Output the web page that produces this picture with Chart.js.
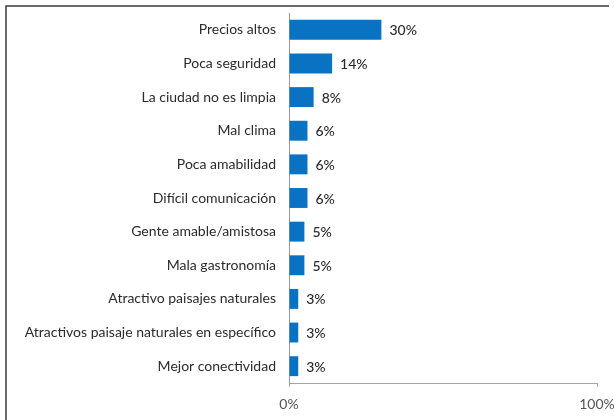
<!DOCTYPE html>
<html>
<head>
<meta charset="utf-8">
<script src="https://cdn.jsdelivr.net/npm/chart.js@4"></script>
<style>
  html, body { margin: 0; padding: 0; background: #fff; }
  #wrap { width: 614px; height: 420px; position: relative; }
</style>
</head>
<body>
<div id="wrap"><canvas id="c" width="614" height="420"></canvas></div>
<script>
const categories = [
  'Precios altos',
  'Poca seguridad',
  'La ciudad no es limpia',
  'Mal clima',
  'Poca amabilidad',
  'Difícil comunicación',
  'Gente amable/amistosa',
  'Mala gastronomía',
  'Atractivo paisajes naturales',
  'Atractivos paisaje naturales en específico',
  'Mejor conectividad'
];
const shares = [30, 14, 8, 6, 6, 6, 5, 5, 3, 3, 3];
const axisTicks = [0, 100];

const FONT = 'Lato, "Open Sans", sans-serif';

// Thin dark frame along the top and left edges of the canvas
const framePlugin = {
  id: 'frame',
  beforeDraw(chart) {
    const ctx = chart.ctx;
    ctx.save();
    ctx.strokeStyle = '#3a3a3a';
    ctx.lineWidth = 1.5;
    ctx.beginPath();
    ctx.moveTo(6, 420);
    ctx.lineTo(6, 6);
    ctx.lineTo(609, 6);
    ctx.stroke();
    ctx.restore();
  }
};

// Percentage printed just past the end of each bar
const valueLabels = {
  id: 'valueLabels',
  afterDatasetsDraw(chart) {
    const ctx = chart.ctx;
    const meta = chart.getDatasetMeta(0);
    ctx.save();
    ctx.font = '500 14px ' + FONT;
    ctx.fillStyle = '#2b2b2b';
    ctx.textAlign = 'left';
    ctx.textBaseline = 'middle';
    meta.data.forEach((bar, i) => {
      ctx.fillText(shares[i] + '%', bar.x + 8, bar.y + 1);
    });
    ctx.restore();
  }
};

new Chart(document.getElementById('c'), {
  type: 'bar',
  data: {
    labels: categories,
    datasets: [{
      data: shares,
      backgroundColor: '#0a72c2',
      borderWidth: 0,
      barPercentage: 0.74,
      categoryPercentage: 0.8
    }]
  },
  options: {
    indexAxis: 'y',
    responsive: false,
    animation: false,
    layout: { autoPadding: false, padding: { left: 0, right: 17, top: 13, bottom: 0 } },
    plugins: {
      legend: { display: false },
      tooltip: { enabled: false }
    },
    scales: {
      x: {
        min: 0,
        max: 100,
        afterBuildTicks(scale) {
          scale.ticks = axisTicks.map(v => ({ value: v }));
        },
        afterFit(scale) {
          scale.height = 37;
          scale.paddingLeft = 0;
          scale.paddingRight = 0;
        },
        grid: {
          drawOnChartArea: false,
          drawTicks: true,
          tickLength: 4,
          color: '#a6a6a6'
        },
        border: { display: true, color: '#a6a6a6', width: 1 },
        ticks: {
          padding: 9,
          color: '#555555',
          font: { family: FONT, size: 14 },
          maxRotation: 0,
          autoSkip: false,
          callback: v => v + '%'
        }
      },
      y: {
        afterFit(scale) {
          scale.width = 289;
          scale.paddingTop = 0;
          scale.paddingBottom = 0;
        },
        grid: {
          drawOnChartArea: false,
          drawTicks: false
        },
        border: { display: true, color: '#9a9a9a', width: 1 },
        ticks: {
          padding: 13,
          color: '#2b2b2b',
          font: { family: FONT, size: 14 },
          autoSkip: false
        }
      }
    }
  },
  plugins: [framePlugin, valueLabels]
});
</script>
</body>
</html>
